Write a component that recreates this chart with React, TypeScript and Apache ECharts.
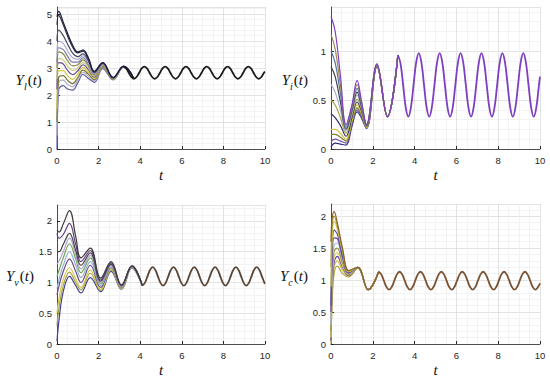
import React, { useEffect, useRef } from "react";
import * as echarts from "echarts";

// ---------- Y_l(t) panel ----------
const T_L = [0, 0.08, 0.3, 0.5, 0.75, 1.0, 1.25, 1.5, 1.8, 2.2, 2.7, 3.2, 3.7];
const YL_1 = [4.9, 5.1, 4.7, 4.3, 3.85, 3.6, 3.66, 3.4, 2.88, 3.2, 2.65, 3.07, 2.6];
const YL_2 = [4.6, 4.95, 4.6, 4.2, 3.78, 3.56, 3.62, 3.35, 2.86, 3.19, 2.64, 3.06, 2.6];
const YL_3 = [4.0, 4.4, 4.2, 3.9, 3.55, 3.42, 3.52, 3.28, 2.83, 3.17, 2.63, 3.06, 2.6];
const YL_4 = [3.5, 4.0, 3.9, 3.65, 3.38, 3.32, 3.45, 3.22, 2.8, 3.15, 2.63, 3.05, 2.6];
const YL_5 = [3.2, 3.75, 3.68, 3.45, 3.22, 3.22, 3.38, 3.16, 2.77, 3.13, 2.62, 3.05, 2.6];
const YL_6 = [3.0, 3.6, 3.52, 3.28, 3.08, 3.12, 3.3, 3.1, 2.74, 3.12, 2.62, 3.05, 2.6];
const YL_7 = [2.6, 3.35, 3.3, 3.08, 2.9, 3.0, 3.2, 3.02, 2.7, 3.1, 2.61, 3.05, 2.6];
const YL_8 = [2.2, 3.2, 3.15, 2.92, 2.75, 2.9, 3.12, 2.95, 2.66, 3.08, 2.6, 3.05, 2.6];
const YL_9 = [1.5, 2.9, 2.9, 2.72, 2.58, 2.78, 3.02, 2.86, 2.62, 3.06, 2.59, 3.04, 2.6];
const YL_10 = [1.0, 2.65, 2.72, 2.55, 2.42, 2.65, 2.92, 2.78, 2.57, 3.03, 2.58, 3.04, 2.6];
const YL_11 = [0.5, 2.45, 2.55, 2.4, 2.3, 2.55, 2.84, 2.7, 2.52, 3.01, 2.57, 3.04, 2.6];
const YL_12 = [0, 2.2, 2.35, 2.22, 2.18, 2.45, 2.76, 2.62, 2.47, 2.98, 2.56, 3.03, 2.6];
const YL_CURVES = [YL_1, YL_2, YL_3, YL_4, YL_5, YL_6, YL_7, YL_8, YL_9, YL_10, YL_11, YL_12];
const YL_COLORS = ["#1c1c48", "#2e2e3c", "#4a4a62", "#b0acd8", "#7c7cae", "#8a8a40", "#cccc88", "#6a4a8a", "#d4c444", "#74742e", "#b4b4cc", "#5c5c9e"];

// shared time samples for the settled oscillation of Y_l and Y_i
const LC_T_A = [3.2, 3.325, 3.45, 3.575, 3.7, 3.825, 3.95, 4.075, 4.2, 4.325, 4.45, 4.575, 4.7, 4.825, 4.95, 5.075, 5.2, 5.325, 5.45, 5.575, 5.7, 5.825, 5.95, 6.075, 6.2, 6.325, 6.45, 6.575, 6.7, 6.825, 6.95, 7.075, 7.2, 7.325, 7.45, 7.575, 7.7, 7.825, 7.95, 8.075, 8.2, 8.325, 8.45, 8.575, 8.7, 8.825, 8.95, 9.075, 9.2, 9.325, 9.45, 9.575, 9.7, 9.825, 9.95, 10];
const LC_L_V = [
  3.05, 2.984, 2.825, 2.666, 2.6, 2.666, 2.825, 2.984,
  3.05, 2.984, 2.825, 2.666, 2.6, 2.666, 2.825, 2.984,
  3.05, 2.984, 2.825, 2.666, 2.6, 2.666, 2.825, 2.984,
  3.05, 2.984, 2.825, 2.666, 2.6, 2.666, 2.825, 2.984,
  3.05, 2.984, 2.825, 2.666, 2.6, 2.666, 2.825, 2.984,
  3.05, 2.984, 2.825, 2.666, 2.6, 2.666, 2.825, 2.984,
  3.05, 2.984, 2.825, 2.666, 2.6, 2.666, 2.825, 2.86,
];

// ---------- Y_i(t) panel ----------
const T_I = [0, 0.2, 0.45, 0.72, 1.0, 1.25, 1.45, 1.7, 2.2, 2.7, 3.2];
const YI_1 = [1.35, 1.2, 0.75, 0.25, 0.45, 0.7, 0.5, 0.25, 0.87, 0.33, 0.96];
const YI_2 = [1.17, 1.02, 0.65, 0.24, 0.43, 0.66, 0.48, 0.25, 0.87, 0.33, 0.96];
const YI_3 = [1.0, 0.88, 0.57, 0.22, 0.41, 0.62, 0.46, 0.25, 0.86, 0.33, 0.96];
const YI_4 = [0.84, 0.74, 0.48, 0.2, 0.39, 0.58, 0.44, 0.24, 0.86, 0.33, 0.96];
const YI_5 = [0.66, 0.58, 0.4, 0.18, 0.37, 0.55, 0.43, 0.24, 0.86, 0.33, 0.96];
const YI_6 = [0.5, 0.45, 0.32, 0.16, 0.35, 0.51, 0.41, 0.23, 0.85, 0.33, 0.96];
const YI_7 = [0.36, 0.32, 0.24, 0.13, 0.32, 0.48, 0.39, 0.23, 0.85, 0.33, 0.96];
const YI_8 = [0.2, 0.2, 0.16, 0.1, 0.29, 0.45, 0.37, 0.22, 0.85, 0.33, 0.96];
const YI_9 = [0.15, 0.15, 0.12, 0.08, 0.27, 0.42, 0.35, 0.22, 0.84, 0.33, 0.96];
const YI_10 = [0.08, 0.1, 0.08, 0.06, 0.25, 0.4, 0.34, 0.21, 0.84, 0.33, 0.96];
const YI_11 = [0.02, 0.06, 0.05, 0.04, 0.23, 0.38, 0.32, 0.21, 0.84, 0.33, 0.96];
const YI_CURVES = [YI_1, YI_2, YI_3, YI_4, YI_5, YI_6, YI_7, YI_8, YI_9, YI_10, YI_11];
const YI_COLORS = ["#8040c0", "#a08a50", "#5072a4", "#40404e", "#a4b4d4", "#a8a440", "#303062", "#d4c444", "#80802e", "#7050a4", "#30308a"];
const LC_I_V = [
  0.96, 0.875, 0.655, 0.425, 0.33, 0.425, 0.655, 0.885,
  0.98, 0.885, 0.655, 0.425, 0.33, 0.425, 0.655, 0.885,
  0.98, 0.885, 0.655, 0.425, 0.33, 0.425, 0.655, 0.885,
  0.98, 0.885, 0.655, 0.425, 0.33, 0.425, 0.655, 0.885,
  0.98, 0.885, 0.655, 0.425, 0.33, 0.425, 0.655, 0.885,
  0.98, 0.885, 0.655, 0.425, 0.33, 0.425, 0.655, 0.885,
  0.98, 0.885, 0.655, 0.425, 0.33, 0.425, 0.655, 0.74,
];

// ---------- Y_v(t) panel ----------
const T_V = [0, 0.1, 0.3, 0.6, 0.9, 1.15, 1.6, 2.1, 2.6, 3.1, 3.6, 4.1];
const YV_1 = [1.85, 1.82, 1.95, 2.17, 1.75, 1.4, 1.56, 1.07, 1.34, 0.96, 1.27, 0.95];
const YV_2 = [1.8, 1.72, 1.78, 1.96, 1.62, 1.34, 1.52, 1.04, 1.32, 0.95, 1.27, 0.95];
const YV_3 = [1.5, 1.5, 1.62, 1.8, 1.52, 1.28, 1.48, 1.02, 1.3, 0.95, 1.26, 0.95];
const YV_4 = [1.3, 1.35, 1.5, 1.72, 1.45, 1.22, 1.44, 1.0, 1.29, 0.94, 1.26, 0.95];
const YV_5 = [1.1, 1.2, 1.4, 1.63, 1.38, 1.16, 1.4, 0.98, 1.28, 0.94, 1.26, 0.95];
const YV_6 = [0.9, 1.05, 1.28, 1.5, 1.28, 1.08, 1.34, 0.95, 1.26, 0.93, 1.25, 0.95];
const YV_7 = [0.8, 0.95, 1.18, 1.38, 1.18, 1.0, 1.28, 0.92, 1.24, 0.92, 1.25, 0.95];
const YV_8 = [0.5, 0.75, 1.05, 1.24, 1.06, 0.92, 1.2, 0.89, 1.22, 0.91, 1.25, 0.95];
const YV_9 = [0.3, 0.6, 0.95, 1.17, 1.0, 0.88, 1.15, 0.87, 1.2, 0.9, 1.24, 0.95];
const YV_10 = [0.05, 0.4, 0.85, 1.1, 0.95, 0.83, 1.08, 0.85, 1.18, 0.89, 1.24, 0.95];
const YV_CURVES = [YV_1, YV_2, YV_3, YV_4, YV_5, YV_6, YV_7, YV_8, YV_9, YV_10];
const YV_COLORS = ["#403a3a", "#604082", "#444444", "#b4a4d4", "#72a452", "#94b4d4", "#6a4a8a", "#d8c850", "#a4a440", "#40409a"];
const LC_V_T = [4.1, 4.225, 4.35, 4.475, 4.6, 4.725, 4.85, 4.975, 5.1, 5.225, 5.35, 5.475, 5.6, 5.725, 5.85, 5.975, 6.1, 6.225, 6.35, 6.475, 6.6, 6.725, 6.85, 6.975, 7.1, 7.225, 7.35, 7.475, 7.6, 7.725, 7.85, 7.975, 8.1, 8.225, 8.35, 8.475, 8.6, 8.725, 8.85, 8.975, 9.1, 9.225, 9.35, 9.475, 9.6, 9.725, 9.85, 9.975, 10];
const LC_V_V = [
  0.95, 0.994, 1.1, 1.206, 1.25, 1.206, 1.1, 0.994,
  0.95, 0.994, 1.1, 1.206, 1.25, 1.206, 1.1, 0.994,
  0.95, 0.994, 1.1, 1.206, 1.25, 1.206, 1.1, 0.994,
  0.95, 0.994, 1.1, 1.206, 1.25, 1.206, 1.1, 0.994,
  0.95, 0.994, 1.1, 1.206, 1.25, 1.206, 1.1, 0.994,
  0.95, 0.994, 1.1, 1.206, 1.25, 1.206, 1.1, 0.994,
  0.98,
];

// ---------- Y_c(t) panel ----------
const T_C = [0, 0.05, 0.15, 0.3, 0.55, 0.85, 1.28, 1.78, 2.28];
const YC_1 = [1.6, 1.95, 2.07, 1.9, 1.5, 1.15, 1.2, 0.85, 1.13];
const YC_2 = [1.2, 1.8, 2.0, 1.85, 1.48, 1.14, 1.2, 0.85, 1.13];
const YC_3 = [0.9, 1.6, 1.92, 1.8, 1.45, 1.13, 1.2, 0.85, 1.13];
const YC_4 = [0.6, 1.4, 1.78, 1.72, 1.4, 1.12, 1.2, 0.85, 1.13];
const YC_5 = [0.5, 1.3, 1.66, 1.65, 1.36, 1.11, 1.2, 0.85, 1.13];
const YC_6 = [0.3, 1.15, 1.55, 1.58, 1.32, 1.1, 1.2, 0.85, 1.13];
const YC_7 = [0.2, 1.0, 1.45, 1.5, 1.27, 1.09, 1.2, 0.85, 1.13];
const YC_8 = [0.1, 0.9, 1.36, 1.43, 1.23, 1.08, 1.2, 0.85, 1.13];
const YC_9 = [0.05, 0.8, 1.28, 1.37, 1.2, 1.07, 1.19, 0.85, 1.13];
const YC_10 = [0.02, 0.7, 1.2, 1.3, 1.15, 1.06, 1.19, 0.85, 1.13];
const YC_11 = [0, 0.6, 1.1, 1.22, 1.1, 1.05, 1.19, 0.85, 1.13];
const YC_CURVES = [YC_1, YC_2, YC_3, YC_4, YC_5, YC_6, YC_7, YC_8, YC_9, YC_10, YC_11];
const YC_COLORS = ["#8a6030", "#b0a030", "#d4c444", "#5252a4", "#7242a4", "#a4b4e0", "#929242", "#e0d060", "#6242a4", "#d8c040", "#a4a440"];
const LC_C_T = [2.28, 2.405, 2.53, 2.655, 2.78, 2.905, 3.03, 3.155, 3.28, 3.405, 3.53, 3.655, 3.78, 3.905, 4.03, 4.155, 4.28, 4.405, 4.53, 4.655, 4.78, 4.905, 5.03, 5.155, 5.28, 5.405, 5.53, 5.655, 5.78, 5.905, 6.03, 6.155, 6.28, 6.405, 6.53, 6.655, 6.78, 6.905, 7.03, 7.155, 7.28, 7.405, 7.53, 7.655, 7.78, 7.905, 8.03, 8.155, 8.28, 8.405, 8.53, 8.655, 8.78, 8.905, 9.03, 9.155, 9.28, 9.405, 9.53, 9.655, 9.78, 9.905, 10];
const LC_C_V = [
  1.13, 1.089, 0.99, 0.891, 0.85, 0.891, 0.99, 1.089,
  1.13, 1.089, 0.99, 0.891, 0.85, 0.891, 0.99, 1.089,
  1.13, 1.089, 0.99, 0.891, 0.85, 0.891, 0.99, 1.089,
  1.13, 1.089, 0.99, 0.891, 0.85, 0.891, 0.99, 1.089,
  1.13, 1.089, 0.99, 0.891, 0.85, 0.891, 0.99, 1.089,
  1.13, 1.089, 0.99, 0.891, 0.85, 0.891, 0.99, 1.089,
  1.13, 1.089, 0.99, 0.891, 0.85, 0.891, 0.99, 1.089,
  1.13, 1.089, 0.99, 0.891, 0.85, 0.891, 0.95,
];

const X_TICK_STEP = 2;

const AX = "#262626";
const SERIF = "'Liberation Serif', 'DejaVu Serif', serif";
const SANS = "'Liberation Sans', Arial, sans-serif";

function yName(sub: string) {
  return `{a|Y}{s|${sub}}{p|(}{a|t}{p|)}`;
}

const nameRich = {
  a: { fontFamily: SERIF, fontStyle: "italic", fontSize: 15, color: "#111", verticalAlign: "bottom", lineHeight: 18 },
  p: { fontFamily: SERIF, fontSize: 15, color: "#111", verticalAlign: "bottom", lineHeight: 18 },
  s: { fontFamily: SERIF, fontStyle: "italic", fontSize: 10, color: "#111", verticalAlign: "bottom", lineHeight: 18, padding: [0, 1, -4, 0] },
};

function xAxisFor(gi: number) {
  return {
    type: "value",
    gridIndex: gi,
    min: 0,
    max: 10,
    interval: X_TICK_STEP,
    name: "t",
    nameLocation: "middle",
    nameGap: 18,
    nameTextStyle: { fontFamily: SERIF, fontStyle: "italic", fontSize: 15, color: "#111" },
    axisLine: { show: true, onZero: false, lineStyle: { color: AX, width: 0.8 } },
    axisTick: { show: true, inside: true, length: 3, lineStyle: { color: AX } },
    axisLabel: { fontSize: 9.5, color: AX, fontFamily: SANS, margin: 6 },
    splitLine: { show: true, lineStyle: { color: "#dcdcdc", width: 0.8 } },
    minorTick: { show: false, splitNumber: 4 },
    minorSplitLine: { show: true, lineStyle: { color: "#f0f0f0", width: 0.8 } },
  };
}

function yAxisFor(gi: number, max: number, interval: number, sub: string, gap: number, minorN: number) {
  return {
    type: "value",
    gridIndex: gi,
    min: 0,
    max,
    interval,
    name: yName(sub),
    nameLocation: "middle",
    nameRotate: 0,
    nameGap: gap,
    nameTextStyle: { rich: nameRich, align: "right" },
    axisLine: { show: true, onZero: false, lineStyle: { color: AX, width: 0.8 } },
    axisTick: { show: true, inside: true, length: 3, lineStyle: { color: AX } },
    axisLabel: { fontSize: 9.5, color: AX, fontFamily: SANS, margin: 5, showMaxLabel: false },
    splitLine: { show: true, lineStyle: { color: "#dcdcdc", width: 0.8 } },
    minorTick: { show: false, splitNumber: minorN },
    minorSplitLine: { show: true, lineStyle: { color: "#f0f0f0", width: 0.8 } },
  };
}

function zip(T: number[], V: number[]) {
  return T.map((t, i) => [t, V[i]]);
}

function lineSeries(gi: number, data: number[][], color: string, width: number, smooth: number) {
  return {
    type: "line",
    xAxisIndex: gi,
    yAxisIndex: gi,
    data,
    smooth,
    showSymbol: false,
    symbol: "none",
    lineStyle: { color, width },
    itemStyle: { color },
    z: 2,
  };
}

function panel(series: any[], gi: number, T: number[], curves: number[][], colors: string[], lcT: number[], lcV: number[], lcColor: string) {
  // first-listed curve ends up drawn on top
  for (let i = curves.length - 1; i >= 0; i--) {
    series.push(lineSeries(gi, zip(T, curves[i]), colors[i], 1.2, 0.4));
  }
  series.push(lineSeries(gi, zip(lcT, lcV), lcColor, 1.8, 0.4));
}

export default function App() {
  const ref = useRef<HTMLDivElement>(null);
  useEffect(() => {
    if (!ref.current) return;
    const chart = echarts.init(ref.current, undefined, { renderer: "svg" });
    const series: any[] = [];
    panel(series, 0, T_L, YL_CURVES, YL_COLORS, LC_T_A, LC_L_V, "#1a1a1a");
    panel(series, 1, T_I, YI_CURVES, YI_COLORS, LC_T_A, LC_I_V, "#7e3fc0");
    panel(series, 2, T_V, YV_CURVES, YV_COLORS, LC_V_T, LC_V_V, "#5a4636");
    panel(series, 3, T_C, YC_CURVES, YC_COLORS, LC_C_T, LC_C_V, "#7a5434");

    chart.setOption({
      animation: false,
      backgroundColor: "#ffffff",
      grid: [
        { left: 57, top: 7, width: 208, height: 142 },
        { left: 331, top: 7, width: 209, height: 142 },
        { left: 57, top: 205, width: 208, height: 140 },
        { left: 331, top: 204, width: 209, height: 141 },
      ],
      xAxis: [xAxisFor(0), xAxisFor(1), xAxisFor(2), xAxisFor(3)],
      yAxis: [
        yAxisFor(0, 5.26, 1, "l", 14, 5),
        yAxisFor(1, 1.45, 0.5, "i", 22, 5),
        yAxisFor(2, 2.26, 0.5, "v", 21, 5),
        yAxisFor(3, 2.19, 0.5, "c", 22, 5),
      ],
      series,
    });
    return () => chart.dispose();
  }, []);
  return (
    <div
      ref={ref}
      style={{ position: "fixed", left: 0, top: 0, width: 550, height: 378, background: "#fff" }}
    />
  );
}
